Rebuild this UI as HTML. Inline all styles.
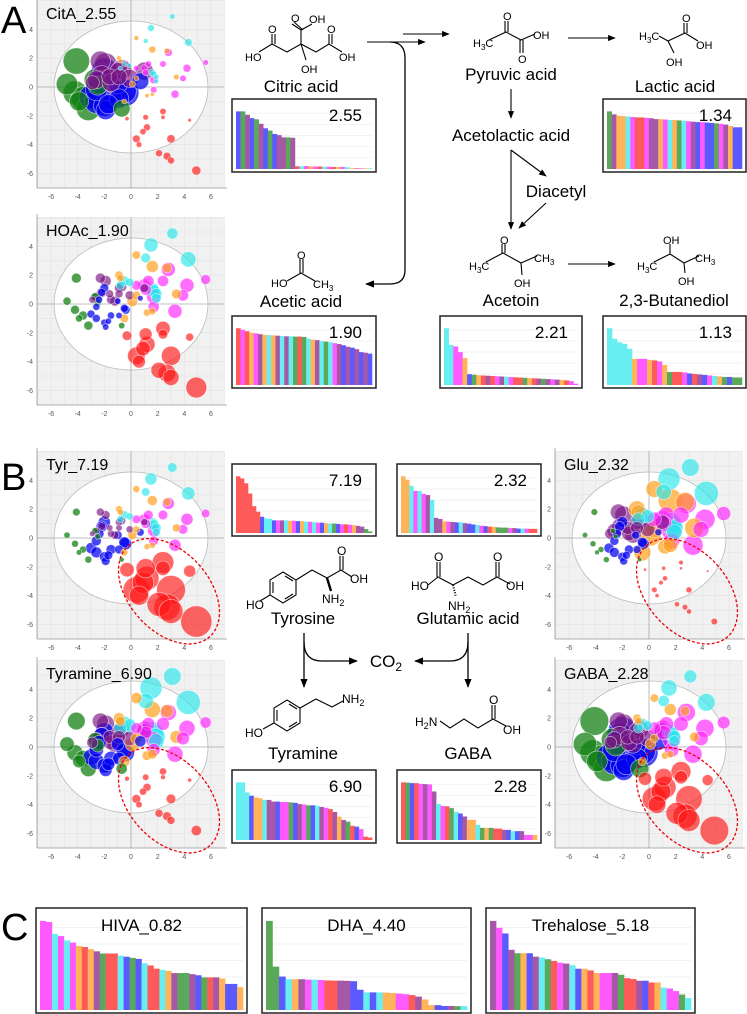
<!DOCTYPE html>
<html><head><meta charset="utf-8"><style>
html,body{margin:0;padding:0;background:#fff}
svg{display:block;font-family:"Liberation Sans",sans-serif}
</style></head><body>
<svg id="fig" width="747" height="1014" viewBox="0 0 747 1014" xmlns="http://www.w3.org/2000/svg">
<defs><marker id="ah" viewBox="0 0 10 10" refX="9" refY="5" markerWidth="7" markerHeight="7" orient="auto-start-reverse"><path d="M0,1 L10,5 L0,9 z" fill="#000"/></marker></defs>
<g id="scatters"></g>
<g id="bars"></g>
<g id="chem" stroke="#000" stroke-width="1.1" fill="none">
 <path d="M367,42 L425,42" marker-end="url(#ah)"/>
 <path d="M403,34 L449,34" marker-end="url(#ah)"/>
 <path d="M390,42 Q405,42 405,58 L405,270 Q405,284 390,284 L366,284" stroke-width="1.3" marker-end="url(#ah)"/>
 <path d="M568,38 L615,38" marker-end="url(#ah)"/>
 <path d="M511,89 L511,118" marker-end="url(#ah)"/>
 <path d="M511,150 L511,229" marker-end="url(#ah)"/>
 <path d="M511,150 L546,176" marker-end="url(#ah)"/>
 <path d="M546,203 L519,228" marker-end="url(#ah)"/>
 <path d="M568,264 L615,264" marker-end="url(#ah)"/>
 <path d="M304,633 L304,687" stroke-width="1.3" marker-end="url(#ah)"/>
 <path d="M304,642 Q304,661 322,661 L357,661" stroke-width="1.3" marker-end="url(#ah)"/>
 <path d="M468,633 L468,687" stroke-width="1.3" marker-end="url(#ah)"/>
 <path d="M468,642 Q468,661 450,661 L415,661" stroke-width="1.3" marker-end="url(#ah)"/>
 <g>
 <polyline points="259,52 272,44 287,52 301,44 316,52 329,44 342,52"/>
 <line x1="272" y1="44" x2="272" y2="34"/><line x1="275" y1="44" x2="275" y2="34"/>
 <line x1="301" y1="44" x2="301" y2="30"/><line x1="301" y1="30" x2="292" y2="24"/><line x1="303" y1="30" x2="294" y2="22"/><line x1="301" y1="30" x2="312" y2="24"/>
 <line x1="301" y1="44" x2="306" y2="60"/>
 <line x1="329" y1="44" x2="329" y2="34"/><line x1="332" y1="44" x2="332" y2="34"/>
 </g>
 <polyline points="489,40 506,32 521,40 535,34"/>
 <line x1="505" y1="32" x2="505" y2="21"/><line x1="508" y1="32" x2="508" y2="21"/>
 <line x1="520" y1="40" x2="520" y2="53"/><line x1="523" y1="40" x2="523" y2="53"/>
 <polyline points="659,36 668,41 685,33 698,41"/>
 <line x1="668" y1="41" x2="674" y2="53"/><line x1="684" y1="33" x2="684" y2="23"/><line x1="687" y1="33" x2="687" y2="23"/>
 <polyline points="486,262 503,253 521,263 537,256"/>
 <line x1="502" y1="253" x2="502" y2="244"/><line x1="505" y1="253" x2="505" y2="244"/><line x1="521" y1="263" x2="522" y2="275"/>
 <polyline points="654,262 670,254 684,263 699,256"/>
 <line x1="670" y1="254" x2="670" y2="244"/><line x1="684" y1="263" x2="685" y2="273"/>
 <polyline points="287,281 301,273 315,281"/>
 <line x1="300" y1="273" x2="300" y2="259"/><line x1="303" y1="273" x2="303" y2="259"/>
 <g>
 <polygon points="283,572 296,580 296,595 283,603 270,595 270,580"/>
 <line x1="273" y1="582" x2="273" y2="593"/><line x1="285" y1="576" x2="293" y2="581"/><line x1="285" y1="599" x2="293" y2="594"/>
 <line x1="270" y1="595" x2="260" y2="601"/>
 <polyline points="296,580 312,570 327,578 341,570 352,577"/>
 <line x1="327" y1="578" x2="331" y2="591" stroke-width="2.4"/>
 <line x1="340" y1="570" x2="340" y2="556"/><line x1="343" y1="570" x2="343" y2="556"/>
 </g>
 <g>
 <polyline points="428,585 438,577 453,585 468,577 483,585 497,577 510,584"/>
 <line x1="437" y1="577" x2="437" y2="562"/><line x1="440" y1="577" x2="440" y2="562"/>
 <line x1="496" y1="577" x2="496" y2="562"/><line x1="499" y1="577" x2="499" y2="562"/>
 <line x1="453" y1="585" x2="456" y2="597" stroke-dasharray="1,1.5" stroke-width="2"/>
 </g>
 <g>
 <polygon points="287,700 300,708 300,723 287,731 274,723 274,708"/>
 <line x1="277" y1="710" x2="277" y2="721"/><line x1="289" y1="704" x2="297" y2="709"/><line x1="289" y1="727" x2="297" y2="722"/>
 <line x1="274" y1="723" x2="263" y2="729"/>
 <polyline points="300,708 316,699 332,707 343,701"/>
 </g>
 <g>
 <polyline points="440,721 450,728 464,719 478,728 493,719 506,726"/>
 <line x1="492" y1="719" x2="492" y2="705"/><line x1="495" y1="719" x2="495" y2="705"/>
 </g>
</g>
<g id="chemtext" font-size="11" fill="#000">
 <text x="245" y="61">HO</text><text x="268" y="33">O</text><text x="291" y="22">O</text><text x="309" y="23">OH</text><text x="327" y="33">O</text><text x="339" y="61">OH</text><text x="301" y="73">OH</text>
 <text x="473" y="47">H<tspan font-size="8" dy="3">3</tspan><tspan dy="-3">C</tspan></text><text x="503" y="20">O</text><text x="518" y="63">O</text><text x="533" y="39">OH</text>
 <text x="639" y="40">H<tspan font-size="8" dy="3">3</tspan><tspan dy="-3">C</tspan></text><text x="682" y="22">O</text><text x="696" y="49">OH</text><text x="666" y="66">OH</text>
 <text x="469" y="270">H<tspan font-size="8" dy="3">3</tspan><tspan dy="-3">C</tspan></text><text x="500" y="244">O</text><text x="534" y="262">CH<tspan font-size="8" dy="3">3</tspan></text><text x="514" y="287">OH</text>
 <text x="637" y="270">H<tspan font-size="8" dy="3">3</tspan><tspan dy="-3">C</tspan></text><text x="663" y="244">OH</text><text x="695" y="262">CH<tspan font-size="8" dy="3">3</tspan></text><text x="678" y="285">OH</text>
 <text x="271" y="287">HO</text><text x="297" y="259">O</text><text x="313" y="288">CH<tspan font-size="8" dy="3">3</tspan></text>
 <g font-size="12">
 <text x="246" y="609">HO</text><text x="337" y="555">O</text><text x="350" y="583">OH</text><text x="322" y="603">NH<tspan font-size="9" dy="3">2</tspan></text>
 <text x="411" y="590">HO</text><text x="434" y="561">O</text><text x="493" y="561">O</text><text x="506" y="590">OH</text><text x="448" y="610">NH<tspan font-size="9" dy="3">2</tspan></text>
 <text x="245" y="737">HO</text><text x="342" y="703">NH<tspan font-size="9" dy="3">2</tspan></text>
 <text x="415" y="726">H<tspan font-size="9" dy="3">2</tspan><tspan dy="-3">N</tspan></text><text x="489" y="704">O</text><text x="503" y="734">OH</text>
 </g>
</g>
<g font-size="17" fill="#000" text-anchor="middle">
 <text x="301" y="92">Citric acid</text>
 <text x="511" y="80">Pyruvic acid</text>
 <text x="675" y="92">Lactic acid</text>
 <text x="511" y="141">Acetolactic acid</text>
 <text x="556" y="197">Diacetyl</text>
 <text x="511" y="306">Acetoin</text>
 <text x="674" y="306">2,3-Butanediol</text>
 <text x="301" y="307">Acetic acid</text>
 <text x="303" y="624">Tyrosine</text>
 <text x="468" y="624">Glutamic acid</text>
 <text x="303" y="759">Tyramine</text>
 <text x="468" y="759">GABA</text>
 <text x="386" y="667">CO<tspan font-size="12" dy="4">2</tspan></text>
</g>
<g font-size="38" fill="#000">
 <text x="1" y="33">A</text>
 <text x="1" y="490">B</text>
 <text x="1" y="940">C</text>
</g>
</svg>
<script>
const sampleX = [-0.3,1.1,1.2,0.9,0.4,0.6,2.4,2.4,3.0,2.1,2.7,3.0,4.4,4.9,
 3.1,1.5,1.1,4.3,-0.5,-0.1,1.7,1.9,1.9,1.6,-0.8,
 0.4,1.6,2.7,-0.9,-0.8,3.4,1.2,1.6,0.1,0.4,-0.5,
 2.8,1.3,2.4,4.2,5.6,0.4,1.0,1.7,1.7,3.3,3.9,1.1,
 -2.3,-1.9,-0.9,-0.7,1.0,-1.6,-2.6,-1.2,-0.9,-2.9,-1.5,-0.1,-2.2,
 -4.1,-4.8,-4.2,-3.6,-3.2,-0.7,-2.7,-3.9,-2.5,
 -2.0,-2.2,-3.0,-2.6,-2.0,-1.9,-0.4,-0.5,0.7,-1.5,-2.6,-1.0,-0.9,-2.4,-1.7];
const sampleY = [-2.2,-2.1,-2.8,-3.1,-3.6,-4.0,-1.7,-2.1,-3.6,-4.6,-4.8,-5.1,-2.3,-5.8,
 4.9,4.1,3.2,3.1,1.6,1.5,0.9,0.7,0.4,1.0,1.3,
 3.4,2.6,2.5,2.0,1.8,0.7,-0.6,-0.5,0.2,0.6,-1.0,
 2.4,1.6,1.6,1.3,1.7,1.3,1.3,0.5,-0.2,-0.5,0.6,1.0,
 1.8,1.6,1.1,1.2,1.1,0.7,0.5,0.2,0.7,0.3,0.3,0.6,0.8,
 1.8,0.2,-0.4,-0.8,-1.5,-1.5,0.5,-1.0,0.1,
 1.1,0.8,-0.7,-1.0,-1.3,-1.6,-0.4,-0.3,0.4,-0.8,-0.2,0.2,-0.8,0.3,-1.2];
const sampleGroup = "rrrrrrrrrrrrrr"+"ccccccccccc"+"ooooooooooo"+"mmmmmmmmmmmm"+"ppppppppppppp"+"ggggggggg"+"bbbbbbbbbbbbbbb";
const sampleWeight = [0.6,0.8,1.0,0.9,1.1,0.8,0.9,0.6,1.2,1.0,1.1,1.0,0.5,1.3,
 0.8,1.0,0.7,1.1,0.7,0.6,0.9,0.8,0.7,1.0,0.6,
 0.7,1.0,0.8,0.7,0.6,0.8,0.6,0.6,0.9,0.7,0.7,
 1.0,0.8,0.8,1.0,0.7,0.7,0.9,1.0,0.8,1.0,0.8,0.8,
 1.0,1.1,0.9,1.0,0.9,0.8,0.9,1.0,0.8,0.7,0.9,0.9,1.0,
 1.1,0.9,1.0,1.0,1.0,0.7,0.9,0.8,0.8,
 1.1,1.0,1.0,1.0,0.9,0.8,1.1,1.0,0.7,0.9,0.9,0.8,0.8,0.9,0.8];
const radCitA = [12,12,10,3.5,3.5,4,3.5];
const radHOAc = [4.5,4,5,6,7,7,8];
const radTyr = [3.5,5.5,4,5,6,6,12];
const radTyramine = [8,8,8,8,11,8,4];
const radGlu = [3,5,8,12,11,10,2.5];
const radGABA = [13,13,9,6,8,9,11];
const xTicks = [-6,-4,-2,0,2,4,6];
const yTicks = [-6,-4,-2,0,2,4];

const groupOrder = "gbpocmr";
const groupColor = {g:"rgba(20,130,20,0.75)",b:"rgba(0,0,240,0.72)",p:"rgba(120,20,130,0.65)",o:"rgba(255,160,30,0.7)",c:"rgba(40,230,235,0.65)",m:"rgba(255,30,255,0.65)",r:"rgba(255,20,20,0.65)"};
const NS="http://www.w3.org/2000/svg";
function mk(tag, attrs, parent){const e=document.createElementNS(NS,tag);for(const k in attrs)e.setAttribute(k,attrs[k]);if(parent)parent.appendChild(e);return e;}

function scatter(title, rad, ox, oy0, showEllipse, nameKey){
  const root=document.getElementById('scatters');
  const g=mk('g',{},root);
  
  
  const sx=v=>ox+v*13.33, sy=v=>oy0-v*14.4;
  const left=ox-94, right=ox+93, top=oy0-87, bottom=oy0+101;
  mk('rect',{x:left,y:top,width:right-left,height:bottom-top,fill:'#f1f1f1'},g);
  for(let v=-7;v<=7;v++){mk('line',{x1:sx(v),x2:sx(v),y1:top,y2:bottom,stroke:'#e2e2e2','stroke-width':0.6},g);}
  for(let v=-7;v<=6;v++){mk('line',{x1:left,x2:right,y1:sy(v),y2:sy(v),stroke:'#e2e2e2','stroke-width':0.6},g);}
  mk('ellipse',{cx:ox,cy:oy0,rx:77,ry:66,fill:'#fff',stroke:'#bbb','stroke-width':0.8},g);
  mk('line',{x1:left,x2:right,y1:oy0,y2:oy0,stroke:'#aaa','stroke-width':0.8},g);
  mk('line',{x1:ox,x2:ox,y1:top,y2:bottom,stroke:'#aaa','stroke-width':0.8},g);
  mk('line',{x1:left,x2:right+3,y1:bottom,y2:bottom,stroke:'#999','stroke-width':0.8},g);
  mk('line',{x1:left,x2:left,y1:top-3,y2:bottom,stroke:'#999','stroke-width':0.8},g);
  xTicks.forEach(v=>{const t=mk('text',{x:sx(v),y:bottom+11,'font-size':7,fill:'#555','text-anchor':'middle'},g);t.textContent=v;
    
    });
  yTicks.forEach(v=>{const t=mk('text',{x:left-4,y:sy(v)+2.5,'font-size':7,fill:'#555','text-anchor':'end'},g);t.textContent=v;
    
    });
  const idx=sampleX.map((_,i)=>i).sort((a,b)=>rad[groupOrder.indexOf(sampleGroup[b])]*sampleWeight[b]-rad[groupOrder.indexOf(sampleGroup[a])]*sampleWeight[a]);
  idx.forEach(i=>{const grp=sampleGroup[i];const r=rad[groupOrder.indexOf(grp)]*sampleWeight[i];
    const c=mk('circle',{cx:sx(sampleX[i]),cy:sy(sampleY[i]),r:r,fill:groupColor[grp],stroke:'rgba(255,255,255,0.6)','stroke-width':0.7},g);
    
    });
  if(showEllipse){const cx=sx(2.85), cy=sy(-3.7);
    const e=mk('ellipse',{cx:cx,cy:cy,rx:40,ry:61,fill:'none',stroke:'#e00','stroke-width':1.3,'stroke-dasharray':'3,2',transform:`rotate(-42 ${cx} ${cy})`},g);
    
    }
  const t=mk('text',{x:left+9,y:top+19,'font-size':16,fill:'#000'},g);t.textContent=title;
  
  
}
scatter('CitA_2.55',radCitA,131,87,false,'cita');
scatter('HOAc_1.90',radHOAc,131,304,false,'hoac');
scatter('Tyr_7.19',radTyr,131,538,true,'tyr');
scatter('Tyramine_6.90',radTyramine,131,747,true,'tyramine');
scatter('Glu_2.32',radGlu,649,538,true,'glu');
scatter('GABA_2.28',radGABA,649,747,true,'gaba');

const citVals=[2.55,2.55,2.4,2.25,2.2,2.0,1.8,1.7,1.55,1.5,1.4,1.4,1.38,0.12,0.12,0.13,0.12,0.11,0.11,0.1,0.1,0.09,0.09,0.09,0.08,0.03,0.03,0.03,0.03,0.03];
const citCols="bgpbgpbgbppgprcmomrcmromcormoc";
const lacVals=[1.34,1.27,1.24,1.23,1.22,1.21,1.20,1.20,1.19,1.18,1.16,1.16,1.15,1.14,1.14,1.13,1.12,1.11,1.10,1.09,1.09,1.08,1.07,1.06,1.05,1.03,1.00,0.97,0.97];
const lacCols="gpoocmrrmppomcogcmpbmbbgmpobb";
const aceVals=[1.90,1.85,1.80,1.75,1.73,1.70,1.68,1.67,1.66,1.65,1.64,1.63,1.63,1.62,1.62,1.61,1.55,1.52,1.50,1.47,1.45,1.43,1.40,1.37,1.33,1.28,1.25,1.20,1.10,1.08,1.05];
const aceCols="rmrompocopcpcgrgcopcgcmpbpbpbpb";
const atoVals=[2.21,1.56,1.50,1.28,1.05,0.42,0.40,0.38,0.37,0.36,0.35,0.34,0.33,0.32,0.31,0.30,0.29,0.28,0.27,0.26,0.25,0.24,0.23,0.22,0.21,0.20,0.18,0.15,0.05];
const atoCols="ccmmobgorprmpcmrrgorpgpmpormm";
const butVals=[1.13,0.92,0.85,0.82,0.72,0.52,0.52,0.52,0.50,0.49,0.47,0.40,0.26,0.26,0.26,0.25,0.23,0.22,0.21,0.20,0.19,0.18,0.17,0.16,0.16,0.15,0.15];
const butCols="cccccommormogrrmbrpbmcogbgg";
const tyrVals=[7.19,6.9,6.3,5.0,3.4,2.7,2.05,1.85,1.8,1.6,1.6,1.6,1.6,1.55,1.55,1.5,1.5,1.45,1.42,1.35,1.3,1.3,1.25,1.2,1.2,1.15,1.1,1.1,1.05,1.0,0.9,0.8,0.5,0.2];
const tyrCols="rrrrrrbccbmpcombocmcmbocgbmrmoppgg";
const gluVals=[2.32,2.18,1.93,1.72,1.72,1.6,1.55,1.35,0.62,0.57,0.48,0.46,0.45,0.43,0.43,0.40,0.38,0.35,0.33,0.30,0.28,0.26,0.25,0.23,0.22,0.22,0.20,0.20,0.18,0.18,0.18,0.17,0.17];
const gluCols="oocmcmpcppompbcpbbcmbrogggmpbcmrr";
const tymVals=[6.9,6.9,5.7,5.3,5.1,5.0,4.8,4.8,4.6,4.6,4.55,4.55,4.5,4.45,4.3,4.25,4.15,4.15,4.1,3.95,3.85,3.7,3.35,2.8,2.4,2.2,1.7,1.6,1.3,0.4,0.3];
const tymCols="cccboocppbmmgbpmgbcpmrpopgrbmrr";
const gabVals=[2.28,2.27,2.25,2.25,2.22,2.21,2.20,1.92,1.43,1.35,1.33,1.26,1.12,1.05,0.93,0.8,0.8,0.6,0.48,0.48,0.48,0.45,0.45,0.40,0.40,0.35,0.35,0.35,0.2,0.2,0.2];
const gabCols="rgbrmpmpcmrgcbpoocgogrrpbcbpmmo";
const hivVals=[0.82,0.81,0.70,0.68,0.64,0.62,0.59,0.58,0.56,0.54,0.52,0.52,0.52,0.50,0.49,0.48,0.47,0.43,0.41,0.38,0.37,0.36,0.34,0.34,0.34,0.33,0.32,0.30,0.30,0.30,0.29,0.24,0.24,0.21];
const hivCols="mmcmcmoropgrrcbgbcrrcopggpbgrpobbo";
const dhaVals=[4.40,2.14,1.65,1.52,1.52,1.52,1.50,1.50,1.48,1.46,1.45,1.45,1.44,1.42,1.0,0.87,0.87,0.87,0.86,0.84,0.81,0.78,0.74,0.66,0.52,0.24,0.24,0.20,0.20,0.19,0.19];
const dhaCols="ggbcopmcmrrppbbcbcoommrpoobbpgc";
const treVals=[5.18,4.78,4.45,3.5,3.3,3.3,3.3,3.1,3.05,2.95,2.85,2.75,2.7,2.6,2.4,2.4,2.3,2.15,2.15,2.15,2.15,2.05,1.85,1.8,1.7,1.7,1.6,1.6,1.3,1.25,1.1,0.9,0.7];
const treCols="pmbpgobpcgrmpcborommpgrrpbrocmmgc";

const barColor={g:"#5aa85a",b:"#5a5aff",p:"#a658a6",o:"#ffb45a",c:"#66eef0",m:"#ff5aff",r:"#ff5a5a"};
function barChart(nm, vals, cols, x, y, w, h, label, titleMode){
  const root=document.getElementById('bars');
  const g=mk('g',{},root);
  
  
  mk('rect',{x:x,y:y,width:w,height:h,fill:'#fff'},g);
  const ix=x+4, iw=w-8, base=y+h-3, ih=h-6;
  const top = titleMode ? 0.9 : 0.86;
  const ymax=Math.max(...vals)/top;
  const sy=v=>base-v/ymax*ih;
  for(let k=1;k<=5;k++){mk('line',{x1:ix,x2:ix+iw,y1:base-k*ih/6,y2:base-k*ih/6,stroke:'#eee','stroke-width':0.7},g);}
  const bw=iw/vals.length;
  vals.forEach((v,i)=>{const r=mk('rect',{x:ix+i*bw,y:sy(v),width:bw+0.3,height:base-sy(v),fill:barColor[cols[i]]||'#999'},g);
    
    });
  mk('rect',{x:x,y:y,width:w,height:h,fill:'none',stroke:'#222','stroke-width':1.5},g);
  const t = titleMode ? mk('text',{x:x+w/2,y:y+23,'font-size':17,'text-anchor':'middle',fill:'#000'},g)
                      : mk('text',{x:x+w-14,y:y+22,'font-size':17,'text-anchor':'end',fill:'#000'},g);
  t.textContent=label;
  
  
}
barChart('citric',citVals,citCols,232,99,144,73,'2.55');
barChart('lactic',lacVals,lacCols,603,99,143,73,'1.34');
barChart('acetic',aceVals,aceCols,232,316,144,72,'1.90');
barChart('acetoin',atoVals,atoCols,440,316,142,72,'2.21');
barChart('butanediol',butVals,butCols,603,316,143,72,'1.13');
barChart('tyr',tyrVals,tyrCols,232,464,144,72,'7.19');
barChart('glu',gluVals,gluCols,397,464,144,72,'2.32');
barChart('tyramine',tymVals,tymCols,232,770,144,73,'6.90');
barChart('gaba',gabVals,gabCols,397,770,144,73,'2.28');
barChart('hiva',hivVals,hivCols,36,908,211,105,'HIVA_0.82',true);
barChart('dha',dhaVals,dhaCols,262,908,209,105,'DHA_4.40',true);
barChart('trehalose',treVals,treCols,486,908,209,105,'Trehalose_5.18',true);
</script>
</body></html>
